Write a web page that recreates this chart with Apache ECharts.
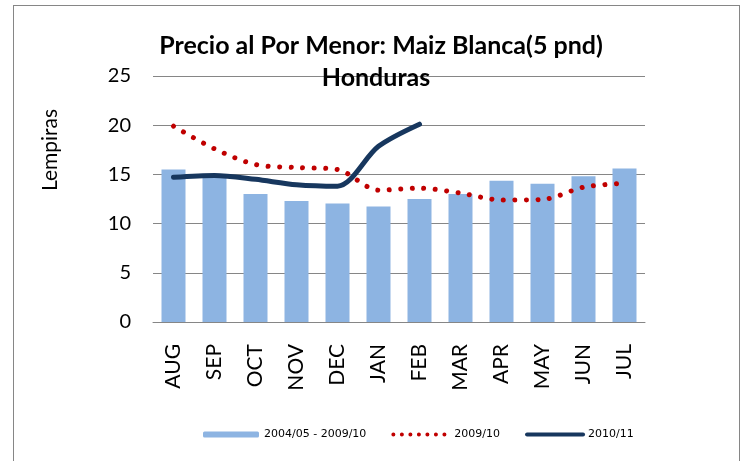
<!DOCTYPE html>
<html>
<head>
<meta charset="utf-8">
<script src="https://cdn.jsdelivr.net/npm/echarts@6/dist/echarts.min.js"></script>
<style>
    body { margin: 0; background: #fff; }
    .frame { position: absolute; left: 13px; top: 5px; width: 725px; height: 470px; border: 1px solid #868686; border-bottom: none; }
    .chart { position: absolute; left: 0; top: 0; width: 746px; height: 461px; }
</style>
</head>
<body>
<div class="frame"></div>
<div class="chart" id="chart"></div>
<script>
var months = ['AUG', 'SEP', 'OCT', 'NOV', 'DEC', 'JAN', 'FEB', 'MAR', 'APR', 'MAY', 'JUN', 'JUL'];
var average = [15.5, 15.0, 13.0, 12.3, 12.05, 11.75, 12.5, 13.0, 14.35, 14.05, 14.8, 15.6];
var last = [19.9, 17.6, 16.0, 15.7, 15.5, 13.4, 13.6, 13.1, 12.4, 12.45, 13.7, 14.1];
var current = [14.7, 14.9, 14.5, 13.95, 13.8, 17.85, 20.1];
var yTicks = [0, 5, 10, 15, 20, 25];

var option = {
    animation: false,
    title: [{
        text: 'Precio al Por Menor: Maiz Blanca(5 pnd)',
        left: 376,
        top: 28,
        textAlign: 'center',
        textStyle: { fontFamily: 'Lato', fontSize: 25, fontWeight: 'bold', color: '#000' }
    }, {
        text: 'Honduras',
        left: 371,
        top: 60,
        textAlign: 'center',
        textStyle: { fontFamily: 'Lato', fontSize: 25, fontWeight: 'bold', color: '#000' }
    }],
    legend: {
        bottom: 16,
        left: 198,
        itemWidth: 56,
        itemHeight: 6,
        itemGap: 25,
        textStyle: { fontFamily: 'DejaVu Sans', fontSize: 11, color: '#000' },
        data: [
            { name: '2004/05 - 2009/10' },
            { name: '2009/10', itemStyle: { opacity: 0 }, lineStyle: { width: 4, type: [0.01, 8.5], cap: 'round' } },
            { name: '2010/11', itemStyle: { opacity: 0 }, lineStyle: { width: 4, cap: 'round' } }
        ]
    },
    grid: {
        left: 153,
        right: 101,
        top: 76,
        bottom: 139
    },
    xAxis: {
        type: 'category',
        data: months,
        axisLine: { lineStyle: { color: '#868686' } },
        axisTick: { show: false },
        axisLabel: {
            rotate: 90,
            interval: 0,
            margin: 22,
            fontFamily: 'Lato',
            fontSize: 21,
            color: '#000'
        }
    },
    yAxis: {
        type: 'value',
        min: yTicks[0],
        max: yTicks[yTicks.length - 1],
        interval: 5,
        name: 'Lempiras',
        nameLocation: 'middle',
        nameGap: 92,
        nameRotate: 90,
        nameTextStyle: { fontFamily: 'Lato', fontSize: 21, color: '#000', padding: [0, 0, 0, 98] },
        axisLine: { show: false },
        axisTick: { show: false },
        axisLabel: { fontFamily: 'Lato', fontSize: 20, color: '#000', margin: 22 },
        splitLine: { lineStyle: { color: '#868686', width: 1 } }
    },
    series: [{
        name: '2004/05 - 2009/10',
        type: 'bar',
        data: average,
        barWidth: 24,
        itemStyle: { color: '#8DB4E2' }
    }, {
        name: '2009/10',
        type: 'line',
        data: last,
        smooth: 0.3,
        symbol: 'none',
        itemStyle: { color: '#C00000' },
        lineStyle: { color: '#C00000', width: 5, type: [0.01, 11.5], cap: 'round' }
    }, {
        name: '2010/11',
        type: 'line',
        data: current,
        smooth: 0.3,
        symbol: 'none',
        itemStyle: { color: '#17375E' },
        lineStyle: { color: '#17375E', width: 5, cap: 'round' }
    }]
};

echarts.init(document.getElementById('chart')).setOption(option);
</script>
</body>
</html>
